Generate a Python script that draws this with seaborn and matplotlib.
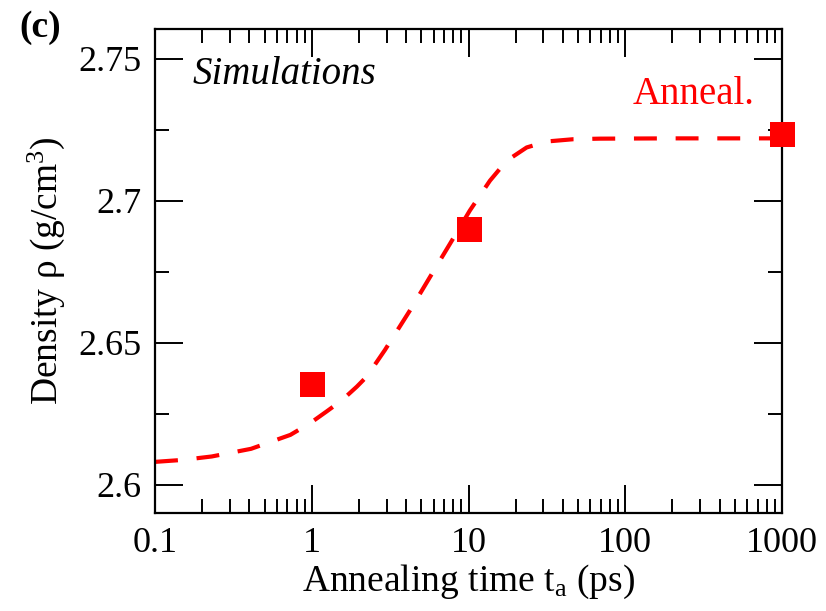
import numpy as np
import pandas as pd
import seaborn as sns
import matplotlib
matplotlib.use("Agg")
import matplotlib.pyplot as plt
from matplotlib.ticker import FixedLocator, NullFormatter, LogLocator

# Data
sim_time = [1, 10, 1000]
sim_density = [2.6355, 2.690, 2.7236]

curve_time = [0.1, 0.151, 0.23, 0.41, 0.73, 0.975, 1.24, 1.55, 1.94, 2.24, 2.93,
              4.24, 5.68, 7.62, 10.2, 13.7, 17.5, 23.5, 31.5, 46.6, 69, 200, 1000]
curve_density = [2.6080, 2.6087, 2.6099, 2.6126, 2.6175, 2.6216, 2.6257, 2.6296,
                 2.6345, 2.6380, 2.6474, 2.6614, 2.6731, 2.6848, 2.6965, 2.7070,
                 2.7140, 2.7187, 2.7208, 2.7216, 2.7218, 2.7219, 2.7219]

y_major = [2.6, 2.65, 2.7, 2.75]
y_major_labels = ["2.6", "2.65", "2.7", "2.75"]
y_minor = [2.625, 2.675, 2.725]
x_major = [0.1, 1, 10, 100, 1000]
x_major_labels = ["0.1", "1", "10", "100", "1000"]

sns.set_theme(style="white")
plt.rcParams['font.family'] = ['Liberation Serif', 'DejaVu Serif']
plt.rcParams['mathtext.fontset'] = 'custom'
plt.rcParams['mathtext.rm'] = 'Liberation Serif'
plt.rcParams['mathtext.it'] = 'Liberation Serif:italic'
plt.rcParams['text.color'] = 'black'
plt.rcParams['axes.labelcolor'] = 'black'
plt.rcParams['xtick.color'] = 'black'
plt.rcParams['ytick.color'] = 'black'

fig = plt.figure(figsize=(8.26, 6.11), dpi=100)
ax = fig.add_axes([0.1877, 0.1604, 0.7590, 0.7921])

curve_df = pd.DataFrame({"t": curve_time, "rho": curve_density})
sim_df = pd.DataFrame({"t": sim_time, "rho": sim_density})

sns.lineplot(data=curve_df, x="t", y="rho", ax=ax, color="#ff0000", lw=3,
             sort=False, estimator=None, legend=False)
ax.lines[-1].set_linestyle((0, (5.5, 4.5)))
ax.plot(sim_df["t"], sim_df["rho"], linestyle="none", marker="s",
        markersize=18, color="#ff0000", markeredgewidth=0, clip_on=False, zorder=5)

ax.set_xscale("log")
ax.set_xlim(0.1, 1000)
ax.set_ylim(2.59, 2.7604)

ax.xaxis.set_major_locator(FixedLocator(x_major))
ax.set_xticklabels(x_major_labels)
ax.xaxis.set_minor_locator(LogLocator(base=10, subs=np.arange(2, 10)))
ax.xaxis.set_minor_formatter(NullFormatter())
ax.yaxis.set_major_locator(FixedLocator(y_major))
ax.set_yticklabels(y_major_labels)
ax.yaxis.set_minor_locator(FixedLocator(y_minor))

for s in ax.spines.values():
    s.set_visible(True)
    s.set_color("black")
    s.set_linewidth(1.6)

ax.tick_params(which="both", direction="in", top=True, right=True,
               bottom=True, left=True, color="black", width=1.4)
ax.tick_params(which="major", length=20, labelsize=26, pad=10)
ax.tick_params(which="minor", length=10)

ax.set_xlabel(r"Annealing time t$_{\mathrm{a}}$ (ps)", fontsize=27, labelpad=2)
ax.set_ylabel(r"Density ρ (g/cm$^{3}$)", fontsize=27, labelpad=8)

ax.text(0.06, 0.905, "Simulations", transform=ax.transAxes, fontsize=28,
        style="italic", ha="left", va="center", color="black")
ax.text(0.957, 0.865, "Anneal.", transform=ax.transAxes, fontsize=28,
        ha="right", va="center", color="#ff0000")
fig.text(0.024, 0.955, "(c)", fontsize=27, fontweight="bold", ha="left", va="center")

fig.savefig("out.png", dpi=100)
